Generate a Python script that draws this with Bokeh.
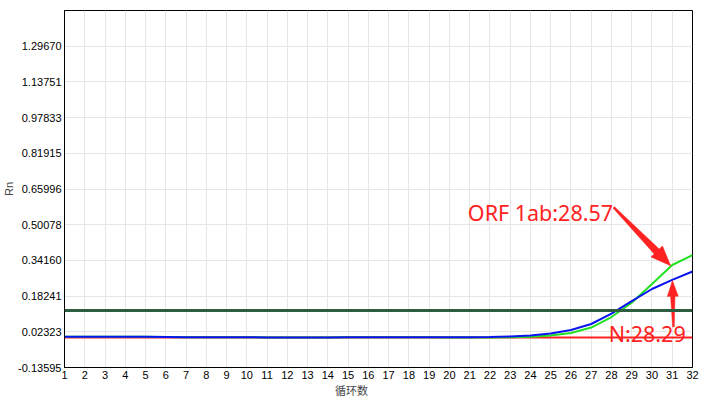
import math
from bokeh.plotting import figure
from bokeh.models import FixedTicker, Label, Span
from bokeh.embed import file_html
from bokeh.resources import INLINE

cycles = list(range(1, 33))
orf1ab = [0.001, 0.001, 0.001, 0.001, 0.001, 0.000, -0.001, -0.001, -0.001, -0.001,
          -0.002, -0.002, -0.002, -0.002, -0.001, -0.001, -0.001, -0.001, -0.001, -0.002,
          -0.002, -0.002, -0.001, 0.001, 0.007, 0.018, 0.042, 0.089, 0.153, 0.236,
          0.321, 0.365]
n_gene = [0.001, 0.001, 0.001, 0.001, 0.001, 0.000, -0.001, -0.001, -0.001, -0.001,
          -0.002, -0.002, -0.002, -0.002, -0.001, -0.001, -0.001, -0.001, -0.001, -0.001,
          -0.001, 0.000, 0.002, 0.007, 0.016, 0.031, 0.058, 0.104, 0.160, 0.214,
          0.255, 0.292]
reference = [-0.002] * 32
threshold = 0.118

y_ticks = [-0.13595, 0.02323, 0.18241, 0.34160, 0.50078, 0.65996, 0.81915, 0.97833, 1.13751, 1.29670]
y_top = 1.45588
x_ticks = cycles

annot_orf = "ORF 1ab:28.57"
annot_n = "N:28.29"
x_label = "循环数"

# annotation arrows: (tail x, tail y, tip x, tip y) in data units
arrow_orf = (28.11, 0.578, 30.92, 0.318)
arrow_n = (31.06, 0.045, 31.01, 0.252)

RED = "#FF2222"
W, H = 705, 400
ML, MR, MT, MB = 63, 13, 10, 29

p = figure(width=W, height=H, output_backend="svg", toolbar_location=None,
           x_range=(1, 32), y_range=(y_ticks[0], y_top),
           min_border_left=ML, min_border_right=MR, min_border_top=MT, min_border_bottom=MB)

p.outline_line_color = "black"
p.outline_line_width = 1
p.background_fill_color = "white"
p.border_fill_color = "white"

p.xaxis.ticker = FixedTicker(ticks=x_ticks)
p.yaxis.ticker = FixedTicker(ticks=y_ticks)
p.yaxis.major_label_overrides = {t: "%.5f" % t for t in y_ticks}
for ax in (p.xaxis, p.yaxis):
    ax.major_tick_out = 0
    ax.major_tick_in = 0
    ax.minor_tick_out = 0
    ax.minor_tick_in = 0
    ax.axis_line_color = "black"
    ax.major_label_text_font = "Liberation Sans"
    ax.major_label_text_font_size = "11px"
    ax.major_label_text_color = "#000000"
p.xaxis.major_label_standoff = 3
p.yaxis.major_label_standoff = 3
p.yaxis.axis_label = "Rn"
p.yaxis.axis_label_text_font = "Liberation Sans"
p.yaxis.axis_label_text_font_size = "11px"
p.yaxis.axis_label_text_font_style = "normal"
p.yaxis.axis_label_standoff = 0

p.xaxis.axis_label = x_label + "\u00a0" * 22
p.xaxis.axis_label_text_font = "Noto Sans CJK SC"
p.xaxis.axis_label_text_font_size = "11px"
p.xaxis.axis_label_text_font_style = "normal"
p.xaxis.axis_label_standoff = 0

p.xgrid.ticker = FixedTicker(ticks=x_ticks)
p.ygrid.ticker = FixedTicker(ticks=y_ticks)
p.grid.grid_line_color = "#E6E6E6"
p.grid.grid_line_width = 1

p.add_layout(Span(location=threshold, dimension="width", line_color="#2E5E42", line_width=3))

p.line(cycles, reference, line_color=RED, line_width=2)
p.line(cycles, orf1ab, line_color="#22E022", line_width=2)
p.line(cycles, n_gene, line_color="#0A14F0", line_width=2)

p.add_layout(Label(x=20.91, y=0.556, text=annot_orf, text_font="Noto Sans", text_font_size="21.5px",
                   text_color=RED, text_baseline="alphabetic"))
p.add_layout(Label(x=27.86, y=0.014, text=annot_n, text_font="Noto Sans", text_font_size="21.5px",
                   text_color=RED, text_baseline="alphabetic"))

# tapered arrow shapes (built in pixel space, converted back to data units)
sx = (W - ML - MR) / 31.0
sy = (H - MT - MB) / (y_top - y_ticks[0])

def wedge(a, head_len, head_half, tail_half, neck_half):
    tx, ty, px, py = a[0] * sx, a[1] * sy, a[2] * sx, a[3] * sy
    L = math.hypot(px - tx, py - ty)
    dx, dy = (px - tx) / L, (py - ty) / L
    nx, ny = -dy, dx
    bx, by = px - dx * head_len, py - dy * head_len
    pts = [(tx + nx * tail_half, ty + ny * tail_half),
           (bx + nx * neck_half, by + ny * neck_half),
           (bx + nx * head_half, by + ny * head_half),
           (px, py),
           (bx - nx * head_half, by - ny * head_half),
           (bx - nx * neck_half, by - ny * neck_half),
           (tx - nx * tail_half, ty - ny * tail_half)]
    return [q[0] / sx for q in pts], [q[1] / sy for q in pts]

xs1, ys1 = wedge(arrow_orf, 20, 8, 1.0, 3.5)
xs2, ys2 = wedge(arrow_n, 16, 5.5, 0.8, 2.2)
p.patch(xs1, ys1, fill_color=RED, line_color=RED, line_width=0.5)
p.patch(xs2, ys2, fill_color=RED, line_color=RED, line_width=0.5)

open("out.html", "w").write(file_html(p, INLINE))
